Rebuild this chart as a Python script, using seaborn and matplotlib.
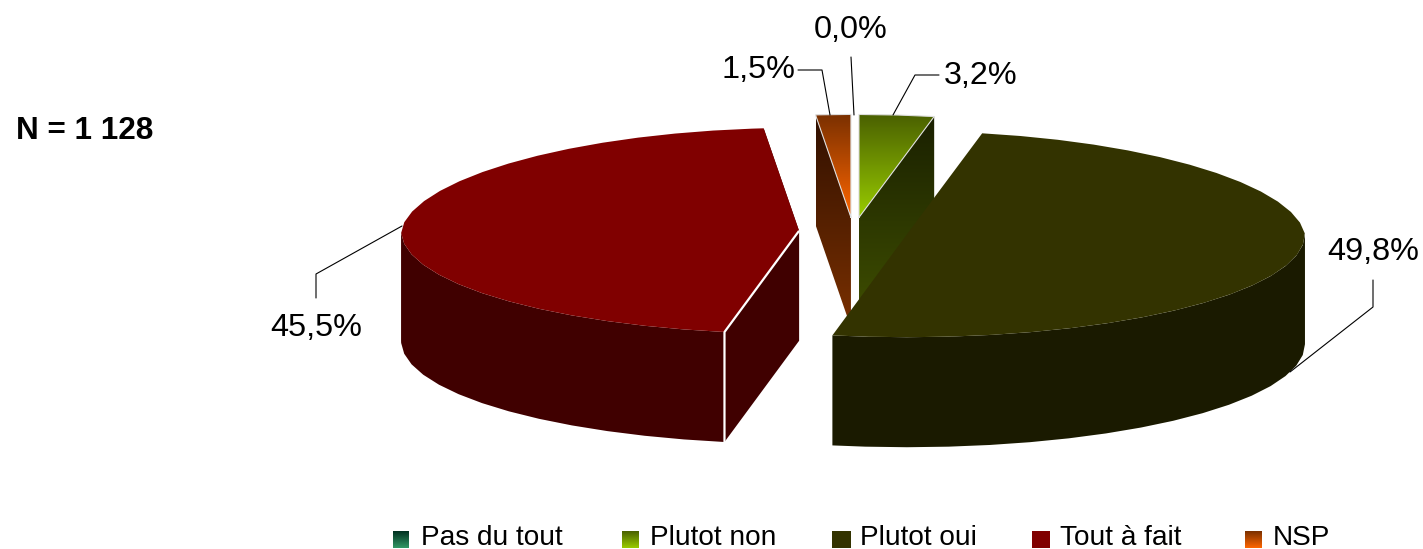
import numpy as np
import matplotlib
matplotlib.use('Agg')
import matplotlib.pyplot as plt
from matplotlib.patches import Polygon
import seaborn as sns

categories = ["Pas du tout", "Plutot non", "Plutot oui", "Tout à fait", "NSP"]
values = [0.0, 3.2, 49.8, 45.5, 1.5]
top_colors = [("#003020", "#339966"), ("#4a6000", "#99cc00"), ("#333300", "#333300"),
              ("#800000", "#800000"), ("#7a3000", "#ff6600")]
side_colors = [("#001810", "#1a4d33"), ("#1a2000", "#405000"), ("#1a1a00", "#1a1a00"),
               ("#400000", "#400000"), ("#301000", "#7a3000")]

# pie geometry, in image pixels
CX, CY = 853.5, 231.5
RX, RY = 398, 103
DEPTH = 110
EXPLODE = 54.5
ARC_STEP = 6
BACK_SQUEEZE = 0.055  # the back of the pie is a little narrower, perspective

sns.set_theme(style="white")
plt.rcParams['font.family'] = ['Liberation Sans', 'DejaVu Sans']

fig = plt.figure(figsize=(14.23, 5.49), dpi=100)
ax = fig.add_axes([0, 0, 1, 1])


def point(theta, center):
    t = np.radians(theta)
    squeeze = 1 - BACK_SQUEEZE * max(np.cos(t), 0)
    return center[0] + RX * np.sin(t) * squeeze, center[1] - RY * np.cos(t)


def arc(a, b, center):
    thetas = np.append(np.arange(a, b, ARC_STEP), b)
    return [point(t, center) for t in thetas]


def fill(points, colors, edge="none", lw=0, zorder=1):
    poly = Polygon(points, closed=True, facecolor=colors[0] if colors[0] == colors[1] else "none",
                   edgecolor=edge, linewidth=lw, zorder=zorder)
    ax.add_patch(poly)
    if colors[0] != colors[1]:
        pts = np.array(points)
        cmap = sns.blend_palette(colors, as_cmap=True)
        img = ax.imshow(np.linspace(0, 1, 256)[:, None], cmap=cmap, aspect='auto', origin='upper',
                        extent=(pts[:, 0].min(), pts[:, 0].max(), pts[:, 1].max(), pts[:, 1].min()),
                        zorder=zorder - 0.1)
        img.set_clip_path(poly)


def down(points):
    return [(x, y + DEPTH) for x, y in points]


def radial_face(theta, center, colors, z):
    pts = [point(theta, center), center]
    fill(pts + down(pts)[::-1], colors, zorder=z)


# angles run clockwise from 12 o'clock
ends = np.cumsum(values) * 3.6
starts = ends - np.array(values) * 3.6

# back slices first, the big ones sit on top of them
z = 2
for i in [4, 1, 3, 2]:
    a, b = starts[i], ends[i]
    mid = np.radians((a + b) / 2)
    center = (CX + EXPLODE * np.sin(mid), CY - EXPLODE * RY / RX * np.cos(mid))
    if i != 2:
        radial_face(b, center, side_colors[i], z)
        radial_face(a, center, side_colors[i], z + 1)
    lo, hi = max(a, 90), min(b, 270)
    if lo < hi:
        wall = arc(lo, hi, center)
        fill(wall + down(wall)[::-1], side_colors[i], zorder=z + 2)
    top = [center] + arc(a, b, center)
    fill(top, top_colors[i], zorder=z + 3)
    if i == 3:
        # white seam round the cut face
        p = point(a, center)
        ax.plot([center[0], p[0], p[0]], [center[1], p[1], p[1] + DEPTH], color="white", lw=1.6,
                zorder=z + 4, solid_capstyle='butt')
    elif i != 2:
        xs, ys = zip(*top, top[0])
        ax.plot(xs, ys, color="#dddddd", lw=0.8, zorder=z + 4)
    z += 5

# data labels and their leader lines
label_pos = [(851, 30), (981, 76), (1373.5, 252), (316.5, 328), (758, 70)]
leaders = [[(854, 115), (851, 57)],
           [(893, 115), (915, 75), (939, 75)],
           [(1290, 372), (1373, 307), (1373, 280)],
           [(402, 226), (316, 274), (316, 298)],
           [(830, 115), (822, 70), (798, 70)]]
for v, pos, line in zip(values, label_pos, leaders):
    ax.text(pos[0], pos[1], f"{v:.1f}%".replace(".", ","), fontsize=23.3, color="black",
            ha="center", va="center", zorder=60)
    xs, ys = zip(*line)
    ax.plot(xs, ys, color="black", lw=0.8, zorder=60)

ax.text(16, 131, "N = 1 128", fontsize=22.7, fontweight="bold", color="black", ha="left", va="center")

# legend, drawn by hand because the swatches carry gradients
swatch_x = [393, 622, 832, 1032, 1245]
swatch_w = [16, 17, 19, 18, 17]
text_x = [421, 650, 860, 1060, 1273]
for name, colors, sx, sw, tx in zip(categories, top_colors, swatch_x, swatch_w, text_x):
    fill([(sx, 531), (sx + sw, 531), (sx + sw, 548), (sx, 548)], colors, zorder=60)
    ax.text(tx, 538, name, fontsize=20.2, color="black", ha="left", va="center", zorder=60)

ax.set_xlim(0, 1423)
ax.set_ylim(549, 0)
ax.axis("off")
fig.savefig("out.png", dpi=100, facecolor="white")
